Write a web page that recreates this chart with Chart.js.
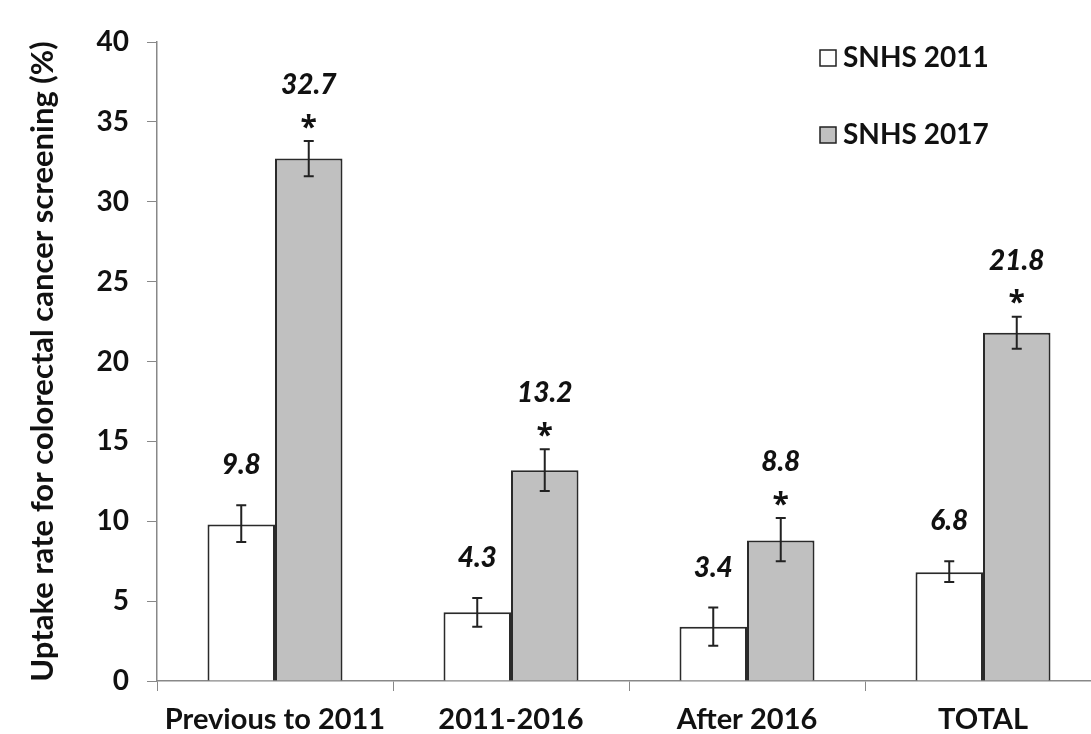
<!DOCTYPE html>
<html>
<head>
<meta charset="utf-8">
<script src="https://cdn.jsdelivr.net/npm/chart.js@4/dist/chart.umd.min.js"></script>
<style>
html,body{margin:0;padding:0;background:#fff;overflow:hidden;}
#wrap{width:1091px;height:734px;position:relative;overflow:hidden;}
</style>
</head>
<body>
<div id="wrap"><canvas id="c" width="1101" height="734"></canvas></div>
<script>
const categories = ['Previous to 2011', '2011-2016', 'After 2016', 'TOTAL'];
const seriesNames = ['SNHS 2011', 'SNHS 2017'];
const snhs2011 = [9.8, 4.3, 3.4, 6.8];
const snhs2017 = [32.7, 13.2, 8.8, 21.8];
const err2011Low = [8.7, 3.4, 2.2, 6.2];
const err2011High = [11.0, 5.2, 4.6, 7.5];
const err2017Low = [31.6, 11.9, 7.5, 20.8];
const err2017High = [33.8, 14.5, 10.2, 22.8];
const significant2017 = [true, true, true, true];
const yTickValues = [0, 5, 10, 15, 20, 25, 30, 35, 40];

const FONT = 'Lato, "Open Sans", sans-serif';
const errLow = [err2011Low, err2017Low];
const errHigh = [err2011High, err2017High];
const labelsBySeries = [snhs2011, snhs2017];

const overlayPlugin = {
  id: 'overlay',
  afterDatasetsDraw(chart) {
    const ctx = chart.ctx;
    const y = chart.scales.y;
    ctx.save();
    chart.data.datasets.forEach((ds, di) => {
      const meta = chart.getDatasetMeta(di);
      meta.data.forEach((bar, i) => {
        const x = bar.x;
        const yl = y.getPixelForValue(errLow[di][i]);
        const yh = y.getPixelForValue(errHigh[di][i]);
        ctx.strokeStyle = '#222';
        ctx.lineWidth = 2;
        ctx.beginPath();
        ctx.moveTo(x, yl); ctx.lineTo(x, yh);
        ctx.moveTo(x - 5, yl); ctx.lineTo(x + 5, yl);
        ctx.moveTo(x - 5, yh); ctx.lineTo(x + 5, yh);
        ctx.stroke();
        ctx.fillStyle = '#111';
        ctx.textAlign = 'center';
        ctx.textBaseline = 'middle';
        const val = labelsBySeries[di][i].toFixed(1);
        if (di === 0) {
          ctx.font = 'italic 900 28px ' + FONT;
          ctx.fillText(val, x, yh - 40);
        } else {
          if (significant2017[i]) {
            ctx.font = 'bold 30px "Open Sans", sans-serif';
            ctx.fillText('*', x, yh - 13);
          }
          ctx.font = 'italic 900 28px ' + FONT;
          ctx.fillText(val, x, yh - 56);
        }
      });
    });
    // legend
    const items = [
      {name: seriesNames[0], fill: '#ffffff', y: 58},
      {name: seriesNames[1], fill: '#c0c0c0', y: 135}
    ];
    items.forEach(it => {
      ctx.fillStyle = it.fill;
      ctx.fillRect(820, it.y - 8, 16, 16);
      ctx.strokeStyle = '#222';
      ctx.lineWidth = 1.5;
      ctx.strokeRect(820, it.y - 8, 16, 16);
      ctx.fillStyle = '#111';
      ctx.font = 'bold 28px ' + FONT;
      ctx.textAlign = 'left';
      ctx.textBaseline = 'middle';
      ctx.fillText(it.name, 843, it.y);
    });
    ctx.restore();
  }
};

new Chart(document.getElementById('c'), {
  type: 'bar',
  data: {
    labels: categories,
    datasets: [
      {label: seriesNames[0], data: snhs2011, backgroundColor: '#ffffff', borderColor: '#2a2a2a', borderWidth: 2, categoryPercentage: 0.572, barPercentage: 1.0},
      {label: seriesNames[1], data: snhs2017, backgroundColor: '#c0c0c0', borderColor: '#2a2a2a', borderWidth: 2, categoryPercentage: 0.572, barPercentage: 1.0}
    ]
  },
  options: {
    responsive: false,
    animation: false,
    devicePixelRatio: 1,
    layout: {padding: {left: 0, right: 0, top: 42, bottom: 0}},
    plugins: {legend: {display: false}, tooltip: {enabled: false}},
    scales: {
      x: {
        grid: {display: true, drawOnChartArea: false, drawTicks: true, tickLength: 10, color: '#888', offset: true},
        border: {display: true, color: '#888', width: 1.5},
        ticks: {color: '#111', font: {family: FONT, size: 29, weight: 'bold'}, padding: 11, maxRotation: 0, autoSkip: false},
        afterFit(s) { s.height = 53; }
      },
      y: {
        min: 0, max: 40,
        afterBuildTicks(s) { s.ticks = yTickValues.map(v => ({value: v})); },
        grid: {display: true, drawOnChartArea: false, drawTicks: true, tickLength: 10, color: '#888'},
        border: {display: true, color: '#888', width: 1.5},
        ticks: {color: '#111', font: {family: FONT, size: 28, weight: 'bold'}, padding: 18},
        title: {display: true, text: 'Uptake rate for colorectal cancer screening (%)', color: '#111', font: {family: FONT, size: 31, weight: 'bold'}, padding: {top: 24, bottom: 0}},
        afterFit(s) { s.width = 157; }
      }
    }
  },
  plugins: [overlayPlugin]
});
</script>
</body>
</html>
